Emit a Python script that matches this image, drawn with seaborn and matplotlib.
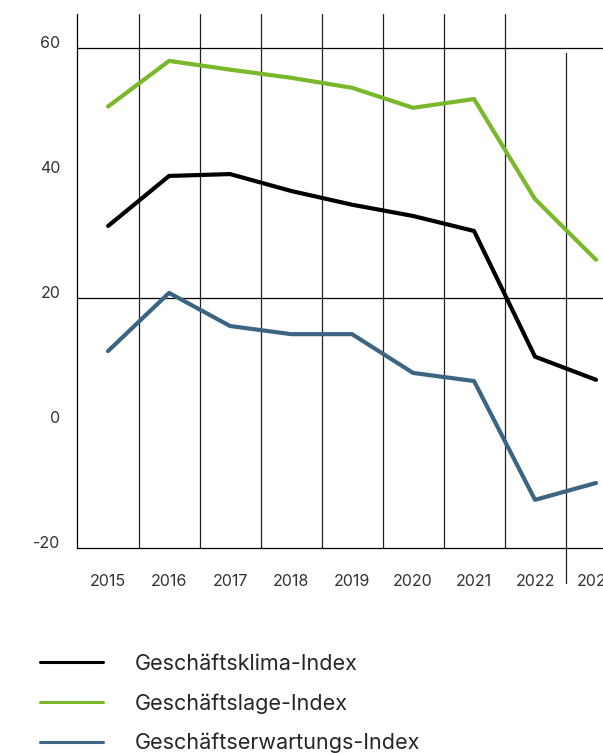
import pandas as pd
import matplotlib.pyplot as plt
import seaborn as sns

years = [2015, 2016, 2017, 2018, 2019, 2020, 2021, 2022, 2023]
klima = [31.5, 39.5, 39.8, 37.1, 34.9, 33.1, 30.7, 10.6, 6.9]
lage = [50.6, 57.9, 56.5, 55.2, 53.6, 50.4, 51.8, 35.8, 26.1]
erwartung = [11.5, 20.8, 15.5, 14.2, 14.2, 8.0, 6.7, -12.3, -9.6]

names = ['Geschäftsklima-Index', 'Geschäftslage-Index', 'Geschäftserwartungs-Index']
colors = ['#000000', '#78b82a', '#3b6582']
yticks = [-20, 0, 20, 40, 60]

df = pd.DataFrame({'Jahr': years, names[0]: klima, names[1]: lage, names[2]: erwartung})
long = df.melt(id_vars='Jahr', var_name='Index', value_name='Wert')

sns.set_style('white')
plt.rcParams['font.family'] = ['Inter', 'DejaVu Sans']

fig = plt.figure(figsize=(6.03, 7.53), dpi=100)
ax = fig.add_axes([77 / 603, 1 - 548 / 753, 549.5 / 603, 534 / 753])

sns.lineplot(data=long, x='Jahr', y='Wert', hue='Index', palette=colors,
             linewidth=3, ax=ax, solid_joinstyle='round', solid_capstyle='round',
             zorder=3)

ax.set_xlim(2014.49, 2023.5)
ax.set_ylim(-20, 65.4)

# grid lines
for x in years[:-2]:
    ax.axvline(x + 0.5, color='#222222', lw=0.9, zorder=1)
ax.plot([2022.5, 2022.5], [59.2, -25.6], color='#222222', lw=0.9, clip_on=False, zorder=1)
for y in [60, 20]:
    ax.axhline(y, color='#000000', lw=0.9, zorder=1)

for s in ['top', 'right']:
    ax.spines[s].set_visible(False)
for s in ['left', 'bottom']:
    ax.spines[s].set_color('#000000')
    ax.spines[s].set_linewidth(0.9)

ax.set_xticks(years)
ax.set_xticklabels([str(y) for y in years], fontsize=11.5, color='#333333')
ax.set_yticks(yticks)
ax.set_yticklabels([str(v) for v in yticks], fontsize=11.5, color='#333333', va='baseline')
ax.tick_params(axis='y', length=0, pad=12)
ax.tick_params(axis='x', length=0, pad=19)
ax.set_xlabel('')
ax.set_ylabel('')

ax.legend(loc='upper left', bbox_to_anchor=(40 / 603, 1 - 654 / 753),
          bbox_transform=fig.transFigure, frameon=False, fontsize=15.5,
          handlelength=2.93, handletextpad=1.49, labelspacing=0.89,
          borderpad=0, borderaxespad=0)
for line in ax.get_legend().get_lines():
    line.set_linewidth(2.2)

fig.savefig('out.png', dpi=100)
